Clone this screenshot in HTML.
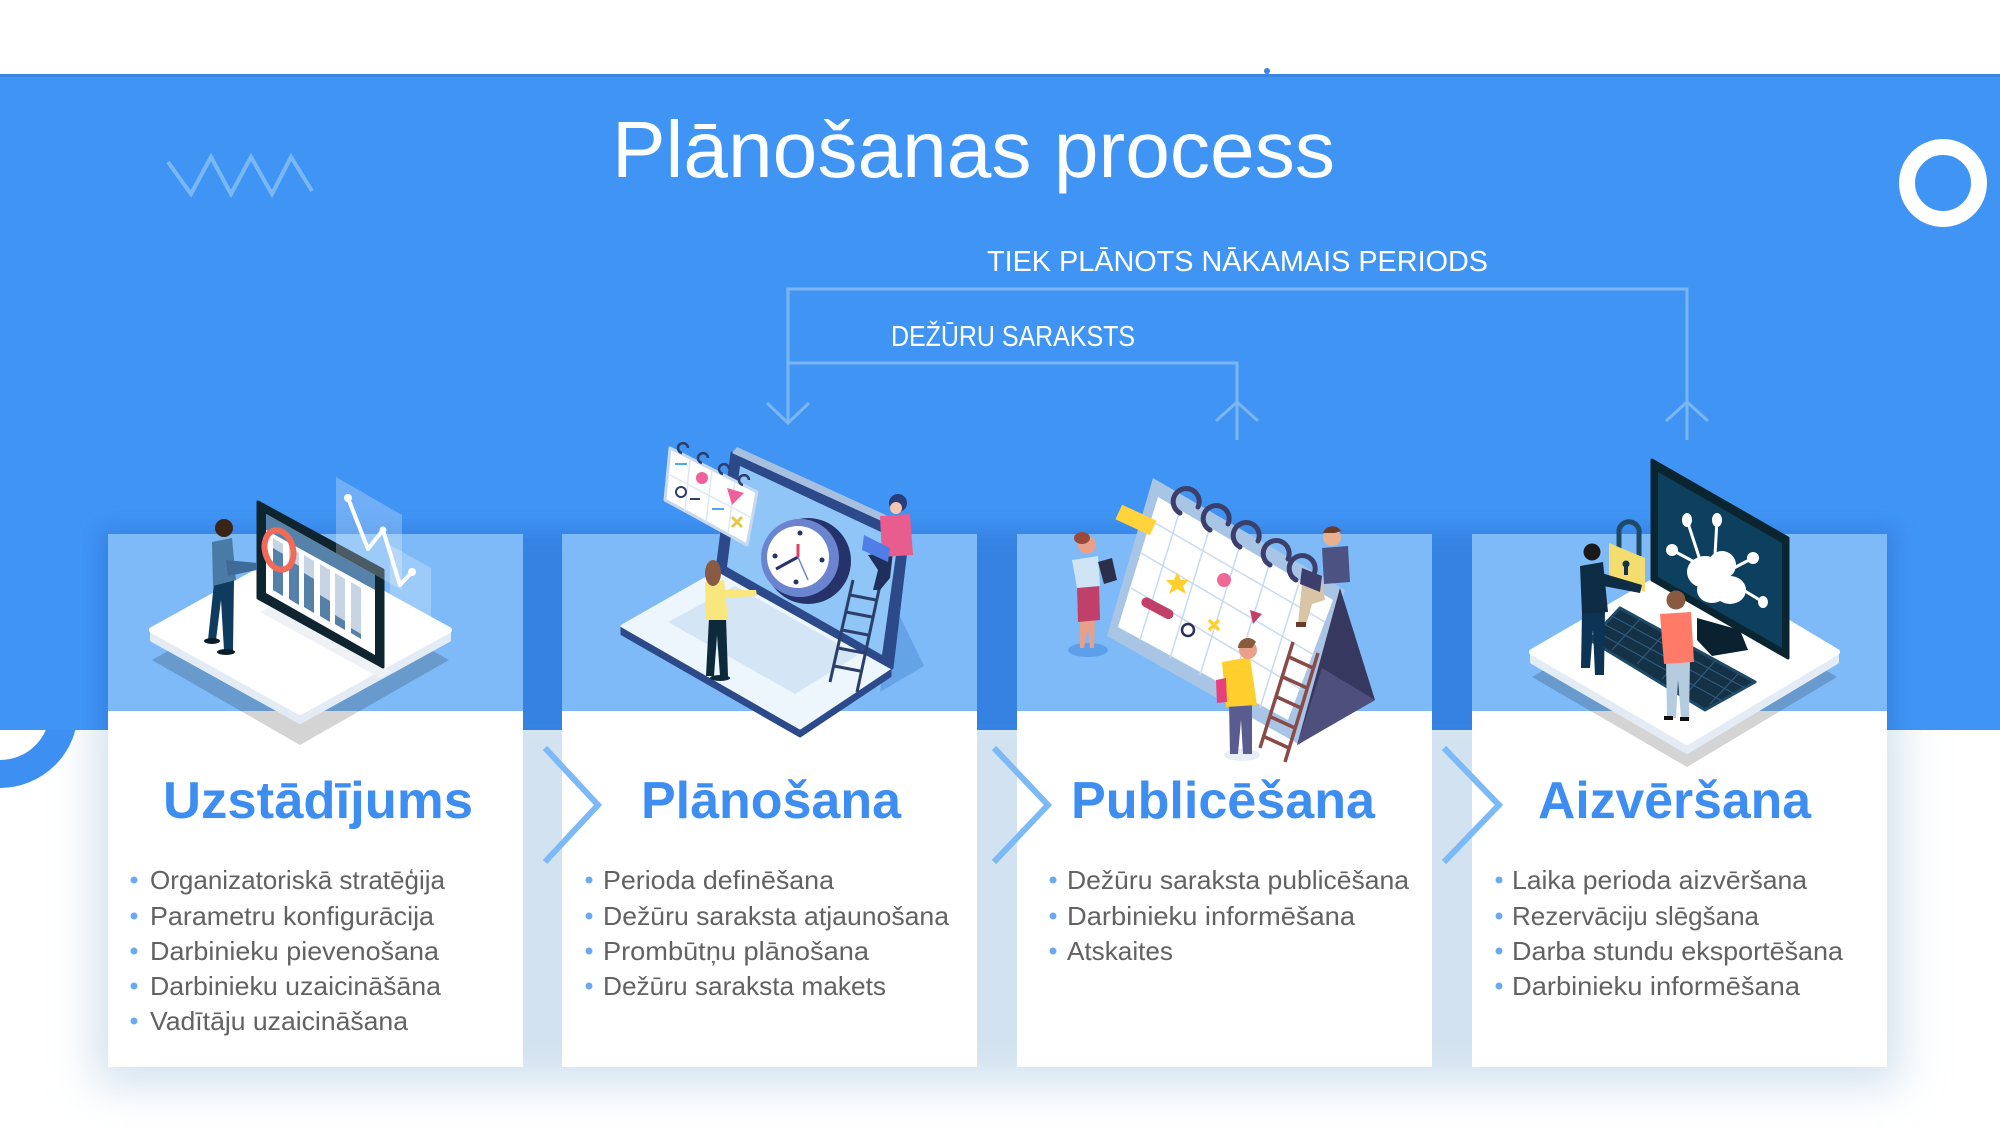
<!DOCTYPE html>
<html><head><meta charset="utf-8"><style>
html,body{margin:0;padding:0;background:#fff;}
svg{display:block;}
</style></head><body>
<svg width="2000" height="1125" viewBox="0 0 2000 1125" xmlns="http://www.w3.org/2000/svg" font-family="'Liberation Sans', sans-serif">
<defs>
 <filter id="b1" x="-20%" y="-50%" width="140%" height="200%"><feGaussianBlur stdDeviation="22"/></filter>
 <filter id="b2" x="-10%" y="-50%" width="120%" height="200%"><feGaussianBlur stdDeviation="10"/></filter>
 <clipPath id="band"><rect x="0" y="74" width="2000" height="656"/></clipPath>
 <clipPath id="below"><rect x="0" y="730" width="2000" height="395"/></clipPath>
</defs>
<rect width="2000" height="1125" fill="#fff"/>
<g clip-path="url(#below)"><rect x="95" y="700" width="1805" height="385" fill="#d2e2f0" filter="url(#b1)"/></g>
<rect x="0" y="74" width="2000" height="656" fill="#4094f4"/>
<rect x="0" y="74" width="2000" height="3" fill="#3a84e2"/>
<circle cx="1267" cy="71" r="3" fill="#3a84e2"/>
<g clip-path="url(#band)"><rect x="100" y="528" width="1795" height="220" fill="#2e77d8" opacity="0.6" filter="url(#b2)"/></g>
<g clip-path="url(#below)"><circle cx="0" cy="710" r="64" fill="none" stroke="#3d8ff2" stroke-width="28"/></g>

<!-- zigzag -->
<polyline points="168,162 191,194 211,157 231,194 251,157 272,194 291,157 312,191" fill="none" stroke="#7ab8f5" stroke-width="4"/>
<!-- ring top right -->
<circle cx="1943" cy="183" r="36" fill="none" stroke="#fff" stroke-width="16"/>

<!-- title -->
<text x="612" y="177" font-size="80" fill="#fdfeff" textLength="723" lengthAdjust="spacingAndGlyphs">Plānošanas process</text>
<text x="987" y="271" font-size="29" fill="#fff" textLength="501" lengthAdjust="spacingAndGlyphs">TIEK PLĀNOTS NĀKAMAIS PERIODS</text>
<text x="891" y="346" font-size="29" fill="#fff" textLength="244" lengthAdjust="spacingAndGlyphs">DEŽŪRU SARAKSTS</text>

<!-- connectors -->
<g fill="none" stroke="#7cb6f2" stroke-width="3">
 <path d="M788,423 V289 H1687 V440"/>
 <path d="M788,363 H1237 V440"/>
 <polyline points="767,403 788,423 809,403"/>
 <polyline points="1216,421 1237,402 1258,421"/>
 <polyline points="1666,421 1687,402 1708,421"/>
</g>

<!-- cards -->
<g>
 <rect x="108" y="534" width="415" height="177" fill="#7dbaf7"/>
 <rect x="108" y="711" width="415" height="356" fill="#fff"/>
 <rect x="562" y="534" width="415" height="177" fill="#7dbaf7"/>
 <rect x="562" y="711" width="415" height="356" fill="#fff"/>
 <rect x="1017" y="534" width="415" height="177" fill="#7dbaf7"/>
 <rect x="1017" y="711" width="415" height="356" fill="#fff"/>
 <rect x="1472" y="534" width="415" height="177" fill="#7dbaf7"/>
 <rect x="1472" y="711" width="415" height="356" fill="#fff"/>
</g>

<!-- ILLUSTRATION 1 -->
<g>
 <polygon points="152,660 300,578 449,660 300,745" fill="#000" opacity="0.17"/>
 <polygon points="152,630 300,712 449,630 449,640 300,722 152,640" fill="#e3ebf5" stroke="#e3ebf5" stroke-width="4" stroke-linejoin="round"/>
 <polygon points="152,630 300,548 449,630 300,712" fill="#fff" stroke="#fff" stroke-width="6" stroke-linejoin="round"/>
 <polygon points="260,612 380,678 392,672 272,606" fill="#eef2f7"/>
 <polygon points="258,502 383,570 383,667 258,598" fill="#0e2530" stroke="#0e2530" stroke-width="3" stroke-linejoin="round"/>
 <polygon points="266,514 375,575 375,655 266,593" fill="#fff"/>
 <polygon points="266,514 375,575 375,590 266,530" fill="#5682aa"/>
 <g fill="#c6d4e4">
  <polygon points="273,538 283,544 283,596 273,590"/>
  <polygon points="289,547 299,553 299,605 289,599"/>
  <polygon points="304,555 314,561 314,613 304,607"/>
  <polygon points="320,564 330,570 330,622 320,616"/>
  <polygon points="335,573 345,579 345,630 335,624"/>
  <polygon points="351,582 361,588 361,639 351,633"/>
 </g>
 <g fill="#5580a8">
  <polygon points="273,548 283,554 283,596 273,590"/>
  <polygon points="289,560 299,566 299,605 289,599"/>
  <polygon points="304,573 314,579 314,613 304,607"/>
  <polygon points="320,595 330,601 330,622 320,616"/>
  <polygon points="335,615 345,621 345,630 335,624"/>
  <polygon points="351,628 361,634 361,639 351,633"/>
 </g>
 <ellipse cx="279" cy="550" rx="14" ry="20" fill="none" stroke="#ef6b58" stroke-width="6" transform="rotate(-15 279 550)"/>
 <polygon points="336,477 402,515 402,590 336,553" fill="#fff" opacity="0.25"/>
 <polygon points="390,545 431,568 431,617 390,594" fill="#fff" opacity="0.25"/>
 <polyline points="348,498 368,549 383,530 400,585 412,572" fill="none" stroke="#fff" stroke-width="4" stroke-linejoin="round"/>
 <circle cx="348" cy="498" r="4" fill="#fff"/><circle cx="383" cy="530" r="3.5" fill="#fff"/><circle cx="412" cy="572" r="4" fill="#fff"/>
 <polygon points="214,583 234,580 233,650 224,650 221,600 216,640 208,640" fill="#0f3b5f"/>
 <polygon points="212,542 232,538 236,580 213,586" fill="#4a7aa6"/>
 <polygon points="226,560 257,563 257,570 228,576" fill="#3e6c98"/>
 <circle cx="224" cy="528" r="9" fill="#3a2416"/>
 <ellipse cx="226" cy="652" rx="9" ry="3" fill="#0c1c2a"/>
 <ellipse cx="212" cy="641" rx="8" ry="3" fill="#0c1c2a"/>
</g>

<!-- ILLUSTRATION 2 -->
<g>
 <polygon points="892,600 924,666 880,692" fill="#1f5fb8" opacity="0.25"/>
 <polygon points="622,626 800,728 890,668 890,676 800,736 622,634" fill="#2c4a8a" stroke="#2c4a8a" stroke-width="3" stroke-linejoin="round"/>
 <polygon points="622,626 717,572 890,668 800,728" fill="#eef6fd" stroke="#eef6fd" stroke-width="3" stroke-linejoin="round"/>
 <polygon points="668,622 735,586 858,655 795,694" fill="#d4e5f6"/>
 <polygon points="732,453 908,533 892,668 717,570" fill="#2c4a8a" stroke="#2c4a8a" stroke-width="3" stroke-linejoin="round"/>
 <polygon points="732,453 908,533 910,526 737,447" fill="#a8c0e0"/>
 <polygon points="740,466 898,540 882,655 727,567" fill="#90c5f7"/>
 <circle cx="808" cy="561" r="43" fill="#26336b"/>
 <circle cx="800" cy="558" r="39" fill="#6a84d0"/>
 <circle cx="798" cy="557" r="31" fill="#fff"/>
 <g fill="#26336b"><circle cx="800" cy="533" r="2.5"/><circle cx="822" cy="560" r="2.5"/><circle cx="796" cy="582" r="2.5"/><circle cx="775" cy="556" r="2.5"/></g>
 <line x1="798" y1="557" x2="776" y2="569" stroke="#26336b" stroke-width="3"/>
 <line x1="798" y1="557" x2="798" y2="544" stroke="#e0406a" stroke-width="3"/>
 <line x1="798" y1="557" x2="808" y2="580" stroke="#6a84d0" stroke-width="1.5"/>
 <polygon points="670,448 757,492 747,545 665,500" fill="#fff" stroke="#c7d9ee" stroke-width="3" stroke-linejoin="round"/>
 <g stroke="#dfe7f0" stroke-width="1.5"><line x1="668" y1="474" x2="752" y2="518"/><line x1="690" y1="459" x2="685" y2="511"/><line x1="712" y1="470" x2="706" y2="522"/><line x1="735" y1="481" x2="728" y2="534"/></g>
 <circle cx="702" cy="478" r="6" fill="#f0609a"/>
 <polygon points="727,488 744,493 732,505" fill="#f0609a"/>
 <circle cx="681" cy="492" r="5" fill="none" stroke="#2c3e6a" stroke-width="2"/>
 <path d="M732,517 l10,10 M742,517 l-10,10" stroke="#e3c84a" stroke-width="3"/>
 <rect x="675" y="463" width="12" height="2" fill="#4aa8f5"/><rect x="690" y="498" width="10" height="2" fill="#2c3e6a"/><rect x="712" y="508" width="12" height="2" fill="#4aa8f5"/>
 <g fill="none" stroke="#2c3e6a" stroke-width="2.5"><path d="M682,453 a5,5 0 1 1 6,-5"/><path d="M702,463 a5,5 0 1 1 6,-5"/><path d="M723,474 a5,5 0 1 1 6,-5"/><path d="M743,485 a5,5 0 1 1 6,-5"/></g>
 <g stroke="#2c3e6a" stroke-width="3">
  <line x1="853" y1="580" x2="830" y2="682"/><line x1="880" y1="585" x2="857" y2="692"/>
  <line x1="850" y1="595" x2="876" y2="600"/><line x1="846" y1="612" x2="872" y2="617"/><line x1="842" y1="630" x2="868" y2="635"/><line x1="838" y1="648" x2="864" y2="653"/><line x1="834" y1="666" x2="860" y2="671"/>
 </g>
 <polygon points="709,618 726,617 728,676 720,676 717,635 714,676 706,676" fill="#0d2a3a"/>
 <polygon points="705,582 724,580 728,620 706,620" fill="#f9e77d"/>
 <polygon points="720,590 756,590 757,596 722,598" fill="#f9e77d"/>
 <ellipse cx="713" cy="573" rx="8" ry="13" fill="#8a5a44"/>
 <ellipse cx="720" cy="678" rx="10" ry="3" fill="#0d2a3a"/>
 <polygon points="868,555 893,552 890,578 880,590 873,590 878,570" fill="#1d2f5a"/>
 <polygon points="880,516 910,514 913,555 882,557" fill="#e85d8e"/>
 <polygon points="864,535 890,548 888,562 862,550" fill="#4f7ee6"/>
 <circle cx="898" cy="503" r="9" fill="#2a3c7a"/>
 <circle cx="896" cy="508" r="6" fill="#f4c7b0"/>
</g>

<!-- ILLUSTRATION 3 -->
<g>
 <polygon points="1153,478 1345,590 1300,745 1107,636" fill="#a8c5e6"/>
 <polygon points="1340,588 1375,700 1297,745" fill="#37385f"/>
 <polygon points="1375,700 1297,745 1322,668" fill="#4f4f7d"/>
 <polygon points="1158,497 1333,600 1288,720 1118,627" fill="#fff"/>
 <g stroke="#c9daf0" stroke-width="1.5">
  <line x1="1150" y1="520" x2="1325" y2="622"/><line x1="1141" y1="553" x2="1314" y2="655"/><line x1="1131" y1="588" x2="1302" y2="690"/>
  <line x1="1180" y1="510" x2="1140" y2="640"/><line x1="1210" y1="527" x2="1170" y2="658"/><line x1="1240" y1="545" x2="1200" y2="675"/><line x1="1270" y1="562" x2="1230" y2="692"/><line x1="1300" y1="580" x2="1260" y2="708"/>
 </g>
 <rect x="1140" y="603" width="35" height="10" rx="5" fill="#c0406a" transform="rotate(28 1157 608)"/>
 <polygon points="1177,572 1181,580 1189,580 1183,586 1186,594 1177,589 1169,594 1172,586 1166,580 1174,580" fill="#ffcf2e"/>
 <circle cx="1224" cy="580" r="7" fill="#f06896"/>
 <circle cx="1188" cy="630" r="6" fill="none" stroke="#2c2f5a" stroke-width="2.5"/>
 <path d="M1209,620 l10,10 M1219,620 l-10,10" stroke="#ffcf2e" stroke-width="3.5"/>
 <polygon points="1250,610 1262,614 1253,624" fill="#c0406a"/>
 <g fill="none" stroke="#3c3f6b" stroke-width="5" stroke-linecap="round">
  <path d="M1180,513 a13,13 0 1 1 18,-6"/><path d="M1210,530 a13,13 0 1 1 18,-6"/><path d="M1240,547 a13,13 0 1 1 18,-6"/><path d="M1270,565 a13,13 0 1 1 18,-6"/><path d="M1296,580 a13,13 0 1 1 18,-6"/>
 </g>
 <rect x="1117" y="512" width="38" height="16" fill="#ffd43b" transform="rotate(25 1136 520)"/>
 <g stroke="#8a4b48" stroke-width="3.5">
  <line x1="1293" y1="642" x2="1260" y2="748"/><line x1="1318" y1="653" x2="1285" y2="762"/>
  <line x1="1289" y1="657" x2="1313" y2="668"/><line x1="1283" y1="677" x2="1307" y2="688"/><line x1="1277" y1="697" x2="1301" y2="708"/><line x1="1271" y1="717" x2="1295" y2="728"/><line x1="1265" y1="737" x2="1289" y2="748"/>
 </g>
 <ellipse cx="1088" cy="650" rx="20" ry="7" fill="#5d9fe8"/>
 <polygon points="1080,615 1095,614 1094,648 1090,648 1088,628 1084,648 1080,648" fill="#e8a08a"/>
 <polygon points="1077,585 1099,583 1100,620 1078,622" fill="#c0406a"/>
 <polygon points="1072,560 1098,556 1100,586 1077,588" fill="#cfe4f5"/>
 <polygon points="1098,562 1112,558 1117,580 1104,584" fill="#2c2f4a"/>
 <circle cx="1087" cy="545" r="9" fill="#e8a08a"/>
 <ellipse cx="1082" cy="538" rx="8" ry="6" fill="#9a4a3a"/>
 <ellipse cx="1242" cy="755" rx="18" ry="6" fill="#e8eef6"/>
 <polygon points="1229,703 1252,702 1252,754 1243,754 1241,720 1238,754 1230,754" fill="#5a5b8e"/>
 <polygon points="1222,662 1250,657 1257,705 1226,707" fill="#ffcf2e"/>
 <polygon points="1216,680 1226,678 1227,702 1217,703" fill="#e8407a"/>
 <circle cx="1248" cy="650" r="9" fill="#e8a08a"/>
 <path d="M1238,648 a10,10 0 0 1 18,-6 l-4,6 z" fill="#8a5a3a"/>
 <polygon points="1302,584 1322,582 1325,600 1312,604 1306,625 1298,624" fill="#d9c5a5"/>
 <polygon points="1322,548 1348,546 1350,582 1324,584" fill="#4c5383"/>
 <polygon points="1302,568 1322,576 1320,592 1300,584" fill="#3c3f6b"/>
 <circle cx="1332" cy="537" r="9" fill="#e8b090"/>
 <path d="M1323,533 a10,10 0 0 1 18,-2 l-6,2 z" fill="#6a3a2a"/>
 <rect x="1296" y="622" width="10" height="5" fill="#6a3a2a"/>
</g>

<!-- ILLUSTRATION 4 -->
<g>
 <polygon points="1532,677 1687,587 1837,677 1687,767" fill="#000" opacity="0.17"/>
 <polygon points="1532,652 1687,742 1837,652 1837,662 1687,752 1532,662" fill="#e3ebf5" stroke="#e3ebf5" stroke-width="4" stroke-linejoin="round"/>
 <polygon points="1532,652 1687,562 1837,652 1687,742" fill="#fff" stroke="#fff" stroke-width="6" stroke-linejoin="round"/>
 <polygon points="1697,618 1740,630 1748,650 1712,656 1697,640" fill="#0a2230"/>
 <polygon points="1652,460 1788,538 1788,658 1652,580" fill="#0b2530" stroke="#0b2530" stroke-width="3" stroke-linejoin="round"/>
 <polygon points="1658,472 1782,543 1782,648 1658,577" fill="#0d405e"/>
 <g stroke="#fff" stroke-width="3">
  <line x1="1700" y1="560" x2="1687" y2="520"/><line x1="1715" y1="555" x2="1717" y2="520"/><line x1="1700" y1="565" x2="1672" y2="550"/><line x1="1730" y1="570" x2="1753" y2="558"/><line x1="1735" y1="585" x2="1763" y2="602"/>
 </g>
 <g fill="#fff">
  <ellipse cx="1687" cy="520" rx="5" ry="7"/><ellipse cx="1717" cy="520" rx="5" ry="7"/><ellipse cx="1672" cy="550" rx="6" ry="6"/><ellipse cx="1753" cy="558" rx="6" ry="6"/><ellipse cx="1763" cy="602" rx="5" ry="6"/>
  <ellipse cx="1705" cy="572" rx="18" ry="16"/><ellipse cx="1722" cy="565" rx="14" ry="14"/><ellipse cx="1730" cy="590" rx="16" ry="14"/><ellipse cx="1712" cy="590" rx="15" ry="13"/>
 </g>
 <polygon points="1620,608 1755,682 1705,710 1590,640" fill="#143146" stroke="#1e4a68" stroke-width="3" stroke-linejoin="round"/>
 <g stroke="#2f5a7a" stroke-width="1.2">
  <line x1="1612" y1="616" x2="1745" y2="688"/><line x1="1604" y1="624" x2="1735" y2="694"/><line x1="1597" y1="632" x2="1722" y2="701"/>
  <line x1="1640" y1="619" x2="1612" y2="650"/><line x1="1665" y1="633" x2="1637" y2="664"/><line x1="1690" y1="647" x2="1662" y2="679"/><line x1="1715" y1="661" x2="1687" y2="693"/><line x1="1738" y1="674" x2="1710" y2="704"/>
 </g>
 <path d="M1619,550 V530 a10,10 0 0 1 20,4 V556" fill="none" stroke="#1e4a68" stroke-width="5"/>
 <polygon points="1609,543 1645,558 1645,592 1609,578" fill="#f2dd6e"/>
 <circle cx="1626" cy="564" r="3.5" fill="#143146"/><rect x="1624" y="565" width="4" height="10" fill="#143146"/>
 <polygon points="1582,612 1605,610 1604,675 1595,675 1593,630 1590,668 1581,668" fill="#0e3455"/>
 <polygon points="1580,566 1603,562 1608,612 1582,614" fill="#0e2c44"/>
 <polygon points="1598,572 1642,585 1640,593 1598,585" fill="#0e2c44"/>
 <circle cx="1592" cy="552" r="8.5" fill="#1a1a1a"/>
 <polygon points="1666,660 1690,660 1689,718 1681,718 1678,680 1676,718 1667,718" fill="#b5cbdf"/>
 <polygon points="1660,614 1691,612 1694,662 1664,664" fill="#ff7b68"/>
 <circle cx="1676" cy="600" r="9.5" fill="#8a5a40"/>
 <rect x="1664" y="716" width="9" height="4" fill="#111"/><rect x="1680" y="717" width="9" height="4" fill="#111"/>
</g>

<!-- chevrons -->
<g fill="none" stroke="#7cb9f7" stroke-width="6">
 <polyline points="545,748 598,805 545,862"/>
 <polyline points="994,748 1048,805 994,862"/>
 <polyline points="1444,748 1499,805 1444,862"/>
</g>

<!-- card titles -->
<g font-weight="bold" font-size="52" fill="#3d8ef0">
 <text x="163" y="818" textLength="310" lengthAdjust="spacingAndGlyphs">Uzstādījums</text>
 <text x="641" y="818" textLength="260" lengthAdjust="spacingAndGlyphs">Plānošana</text>
 <text x="1071" y="818" textLength="304" lengthAdjust="spacingAndGlyphs">Publicēšana</text>
 <text x="1538" y="818" textLength="273" lengthAdjust="spacingAndGlyphs">Aizvēršana</text>
</g>

<!-- bullets -->
<g fill="#6aaaf0">
 <circle cx="134" cy="880" r="3.5"/><circle cx="134" cy="916" r="3.5"/><circle cx="134" cy="951" r="3.5"/><circle cx="134" cy="986" r="3.5"/><circle cx="134" cy="1021" r="3.5"/>
 <circle cx="589" cy="880" r="3.5"/><circle cx="589" cy="916" r="3.5"/><circle cx="589" cy="951" r="3.5"/><circle cx="589" cy="986" r="3.5"/>
 <circle cx="1053" cy="880" r="3.5"/><circle cx="1053" cy="916" r="3.5"/><circle cx="1053" cy="951" r="3.5"/>
 <circle cx="1499" cy="880" r="3.5"/><circle cx="1499" cy="916" r="3.5"/><circle cx="1499" cy="951" r="3.5"/><circle cx="1499" cy="986" r="3.5"/>
</g>
<g font-size="26" fill="#626262">
 <text x="150" y="889" textLength="295" lengthAdjust="spacingAndGlyphs">Organizatoriskā stratēģija</text>
 <text x="150" y="925" textLength="284" lengthAdjust="spacingAndGlyphs">Parametru konfigurācija</text>
 <text x="150" y="960" textLength="289" lengthAdjust="spacingAndGlyphs">Darbinieku pievenošana</text>
 <text x="150" y="995" textLength="291" lengthAdjust="spacingAndGlyphs">Darbinieku uzaicināšāna</text>
 <text x="150" y="1030" textLength="258" lengthAdjust="spacingAndGlyphs">Vadītāju uzaicināšana</text>

 <text x="603" y="889" textLength="231" lengthAdjust="spacingAndGlyphs">Perioda definēšana</text>
 <text x="603" y="925" textLength="346" lengthAdjust="spacingAndGlyphs">Dežūru saraksta atjaunošana</text>
 <text x="603" y="960" textLength="266" lengthAdjust="spacingAndGlyphs">Prombūtņu plānošana</text>
 <text x="603" y="995" textLength="283" lengthAdjust="spacingAndGlyphs">Dežūru saraksta makets</text>

 <text x="1067" y="889" textLength="342" lengthAdjust="spacingAndGlyphs">Dežūru saraksta publicēšana</text>
 <text x="1067" y="925" textLength="288" lengthAdjust="spacingAndGlyphs">Darbinieku informēšana</text>
 <text x="1067" y="960" textLength="106" lengthAdjust="spacingAndGlyphs">Atskaites</text>

 <text x="1512" y="889" textLength="295" lengthAdjust="spacingAndGlyphs">Laika perioda aizvēršana</text>
 <text x="1512" y="925" textLength="247" lengthAdjust="spacingAndGlyphs">Rezervāciju slēgšana</text>
 <text x="1512" y="960" textLength="331" lengthAdjust="spacingAndGlyphs">Darba stundu eksportēšana</text>
 <text x="1512" y="995" textLength="288" lengthAdjust="spacingAndGlyphs">Darbinieku informēšana</text>
</g>
</svg>
</body></html>
